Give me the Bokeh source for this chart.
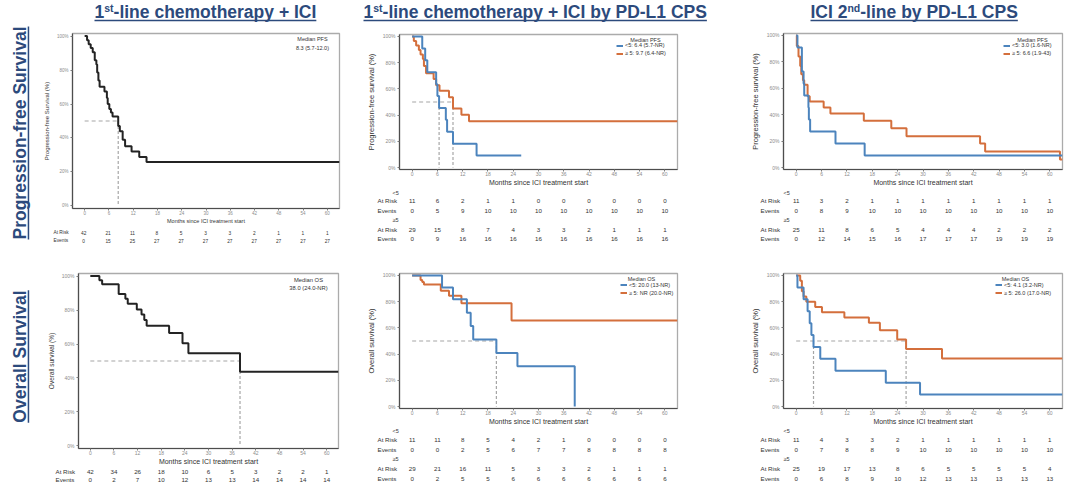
import math

from bokeh.core.properties import value
from bokeh.embed import file_html
from bokeh.layouts import column, row
from bokeh.models import (BoxAnnotation, ColumnDataSource, FixedTicker, Label,
                          LabelSet, Legend, LegendItem, Plot, Range1d)
from bokeh.plotting import figure
from bokeh.resources import INLINE

FONT = "Liberation Sans"
NAVY = "#2C4A7C"
BLUE = "#4C84BD"
ORANGE = "#D46F3C"
BLACK = "#232323"
DASH = "#A6A6A6"
TEXT = "#333333"
TICK = "#8C8C8C"

# ---------------------------------------------------------------- data
month_ticks = [0, 6, 12, 18, 24, 30, 36, 42, 48, 54, 60]
surv_ticks = [0, 20, 40, 60, 80, 100]
surv_tick_labels = ["0%", "20%", "40%", "60%", "80%", "100%"]

# 1st-line chemotherapy + ICI, progression-free survival
pfs1_t = [0, 0.6, 1.0, 1.5, 2.0, 2.5, 2.9, 3.1, 3.4, 3.7, 4.9, 5.5, 5.7, 6.1,
          6.5, 6.9, 8.3, 8.7, 9.4, 10.0, 11.6, 13.5, 15.3, 63]
pfs1_s = [100, 97.6, 95.2, 92.9, 90.5, 85.7, 83.3, 78.6, 73.8, 70.2, 67.3, 63.5,
          60.0, 57.0, 55.0, 52.6, 47.0, 44.0, 38.9, 35.2, 32.0, 28.8, 25.9, 25.9]
pfs1_medians = [8.3]
pfs1_note = ["Median PFS", "8.3 (5.7-12.0)"]
pfs1_at_risk = [42, 21, 11, 8, 5, 3, 3, 2, 1, 1, 1]
pfs1_events = [0, 15, 25, 27, 27, 27, 27, 27, 27, 27, 27]

# 1st-line chemotherapy + ICI by PD-L1 CPS, progression-free survival
pfs2_lo_t = [0, 2.4, 3.1, 3.6, 5.7, 6.0, 6.4, 8.0, 8.3, 9.7, 15.3, 25.9]
pfs2_lo_s = [100, 90.9, 81.8, 72.7, 63.6, 54.5, 45.5, 36.4, 27.3, 18.2, 9.1, 9.1]
pfs2_hi_t = [0, 0.4, 0.95, 1.6, 2.0, 2.55, 2.8, 3.3, 5.1, 5.7, 6.5, 8.75, 9.7,
             11.7, 13.5, 63]
pfs2_hi_s = [100, 96.6, 93.1, 89.7, 86.2, 82.8, 77.5, 72.0, 67.5, 62.7, 58.5,
             53.7, 45.1, 40.2, 35.4, 35.4]
pfs2_medians = [6.4, 9.7]
pfs2_legend = ["<5: 6.4 (5.7-NR)", "\u2265 5: 9.7 (6.4-NR)"]
pfs2_lo_at_risk = [11, 6, 2, 1, 1, 0, 0, 0, 0, 0, 0]
pfs2_lo_events = [0, 5, 9, 10, 10, 10, 10, 10, 10, 10, 10]
pfs2_hi_at_risk = [29, 15, 8, 7, 4, 3, 3, 2, 1, 1, 1]
pfs2_hi_events = [0, 9, 16, 16, 16, 16, 16, 16, 16, 16, 16]

# ICI 2nd-line by PD-L1 CPS, progression-free survival
pfs3_lo_t = [0, 0.3, 1.35, 1.75, 1.9, 2.9, 3.0, 3.3, 9.3, 16.2, 63]
pfs3_lo_s = [100, 90.9, 72.7, 63.6, 54.5, 45.5, 36.4, 27.3, 18.2, 9.1, 9.1]
pfs3_hi_t = [0, 0.15, 0.55, 0.95, 1.2, 1.6, 1.9, 2.7, 3.2, 6.5, 8.1, 16.0, 22.5,
             26.1, 43.5, 44.7, 62.4, 63]
pfs3_hi_s = [100, 92, 84, 76.8, 70.7, 66, 62.7, 54, 50, 45.5, 41, 35.5, 29.8,
             23.7, 18.2, 12.2, 6.1, 6.1]
pfs3_legend = ["<5: 3.0 (1.6-NR)", "\u2265 5: 6.6 (1.9-43)"]
pfs3_lo_at_risk = [11, 3, 2, 1, 1, 1, 1, 1, 1, 1, 1]
pfs3_lo_events = [0, 8, 9, 10, 10, 10, 10, 10, 10, 10, 10]
pfs3_hi_at_risk = [25, 11, 8, 6, 5, 4, 4, 4, 2, 2, 2]
pfs3_hi_events = [0, 12, 14, 15, 16, 17, 17, 17, 19, 19, 19]

# 1st-line chemotherapy + ICI, overall survival
os1_t = [0, 2.3, 3.0, 7.2, 8.9, 9.5, 11.8, 13.0, 13.7, 14.3, 20.0, 23.4, 24.9,
         38.0, 63]
os1_s = [100, 97.6, 95.2, 89.5, 86.6, 83.7, 80.3, 77.4, 74.1, 70.8, 66.5, 60.5,
         54.5, 43.6, 43.6]
os1_medians = [38.0]
os1_note = ["Median OS", "38.0 (24.0-NR)"]
os1_at_risk = [42, 34, 26, 18, 10, 6, 5, 3, 2, 2, 1]
os1_events = [0, 2, 7, 10, 12, 13, 13, 14, 14, 14, 14]

# 1st-line chemotherapy + ICI by PD-L1 CPS, overall survival
os2_lo_t = [0, 7.1, 9.7, 13.0, 13.9, 14.5, 20.0, 25.0, 38.6]
os2_lo_s = [100, 90.9, 81.8, 71.6, 61.4, 51.1, 40.9, 30.7, 0]
os2_hi_t = [0, 2.0, 2.4, 2.8, 6.8, 8.75, 11.7, 23.6, 63]
os2_hi_s = [100, 96.6, 95.0, 93.1, 88.4, 84.6, 78.8, 65.7, 65.7]
os2_medians = [20.0]
os2_legend = ["<5: 20.0 (13-NR)", "\u2265 5: NR (20.0-NR)"]
os2_lo_at_risk = [11, 11, 8, 5, 4, 2, 1, 0, 0, 0, 0]
os2_lo_events = [0, 0, 2, 5, 6, 7, 7, 8, 8, 8, 8]
os2_hi_at_risk = [29, 21, 16, 11, 5, 3, 3, 2, 1, 1, 1]
os2_hi_events = [0, 2, 5, 5, 6, 6, 6, 6, 6, 6, 6]

# ICI 2nd-line by PD-L1 CPS, overall survival
os3_lo_t = [0, 0.3, 1.75, 2.7, 3.2, 3.6, 4.1, 5.7, 9.3, 21.2, 29.3, 63]
os3_lo_s = [100, 90.9, 81.8, 72.7, 63.6, 54.5, 45.5, 36.4, 27.3, 18.2, 9.1, 9.1]
os3_hi_t = [0, 0.95, 1.35, 1.75, 2.4, 4.5, 6.1, 11.4, 17.2, 19.8, 23.9, 26.0,
            34.5, 63]
os3_hi_s = [100, 96, 88, 84, 80, 76, 72, 68, 64, 58.2, 51.2, 43.9, 36.6, 36.6]
os3_medians = [4.1, 26.0]
os3_legend = ["<5: 4.1 (3.2-NR)", "\u2265 5: 26.0 (17.0-NR)"]
os3_lo_at_risk = [11, 4, 3, 3, 2, 1, 1, 1, 1, 1, 1]
os3_lo_events = [0, 7, 8, 8, 9, 10, 10, 10, 10, 10, 10]
os3_hi_at_risk = [25, 19, 17, 13, 8, 6, 5, 5, 5, 5, 4]
os3_hi_events = [0, 6, 8, 9, 10, 12, 13, 13, 13, 13, 13]

group_names = ["<5", "\u22655"]
row_names = ["At Risk", "Events"]

# ---------------------------------------------------------------- helpers
NOALIGN = {"frame_align": False} if "frame_align" in Plot.properties() else {}

# Arial/Liberation Sans Bold advance widths (em) for the heading strings
BOLD_W = {'1': .556, '2': .556, 's': .556, 't': .333, '-': .333, 'l': .278,
          'i': .278, 'n': .611, 'e': .556, ' ': .278, 'c': .556, 'h': .611,
          'm': .889, 'o': .611, 'a': .556, 'p': .611, 'y': .556, 'r': .389,
          '+': .584, 'I': .278, 'C': .722, 'b': .611, 'P': .667, 'D': .722,
          'L': .611, 'S': .667, 'd': .611, 'g': .611, 'f': .333, 'u': .611,
          'v': .556, 'O': .778}


def bold_width(s, size):
    return sum(BOLD_W.get(c, .6) for c in s) * size


def geo(x0, y0, W, H, L, R, T, B):
    return dict(x0=x0, y0=y0, W=W, H=H, L=L, R=R, T=T, B=B,
                fx0=x0 + L, fx1=x0 + W - R, fy0=y0 + T, fy1=y0 + H - B)


def text_fig(x0, y0, W, H):
    """Axis-free figure whose frame fills it; data units are page pixels."""
    f = figure(width=W, height=H, x_range=Range1d(x0, x0 + W),
               y_range=Range1d(y0 + H, y0), x_axis_type=None, y_axis_type=None,
               output_backend="svg", toolbar_location=None, min_border=0,
               min_border_left=0, min_border_right=0, min_border_top=0,
               min_border_bottom=0, **NOALIGN)
    f.outline_line_color = None
    f.background_fill_color = "white"
    f.border_fill_color = "white"
    return f


def put(f, X, Y, text, size, color=TEXT, align="left", bold=False, angle=0.0):
    f.add_layout(Label(x=X, y=Y, text=text, text_font=FONT,
                       text_font_size=f"{size}px", text_color=color,
                       text_align=align, text_baseline="middle",
                       text_font_style="bold" if bold else "normal",
                       angle=angle))


def bar(f, X0, X1, Y0, Y1, color):
    f.add_layout(BoxAnnotation(left=X0, right=X1, top=Y0, bottom=Y1,
                               fill_color=color, fill_alpha=1.0, line_alpha=0.0))


def draw_title(f, X, parts, size=17.5, sup_size=10.5):
    # text boxes are anchored at their middle; baseline sits ~0.35em below it
    x = X
    for txt, sup in parts:
        fs = sup_size if sup else size
        put(f, x, 7.4 if sup else 11.2, txt, fs, NAVY, "left", True)
        x += bold_width(txt, fs)
    bar(f, X, x, 19.2, 20.7, NAVY)


def draw_row_label(f, text, yc, size=17.5):
    length = bold_width(text, size)
    put(f, 19.4, yc, text, size, NAVY, "center", True, angle=math.pi / 2)
    bar(f, 27.2, 28.7, yc - length / 2, yc + length / 2, NAVY)


def base_panel(g, ylabel, ylab_size, tick_size, xlab_size):
    p = figure(width=g["W"], height=g["H"], x_range=Range1d(-3, 63),
               y_range=Range1d(-1.5, 101.5), output_backend="svg",
               toolbar_location=None, min_border_left=g["L"],
               min_border_right=g["R"], min_border_top=g["T"],
               min_border_bottom=g["B"], **NOALIGN)
    p.xgrid.visible = False
    p.ygrid.visible = False
    p.outline_line_color = "#ABABAB"
    p.outline_line_width = 1.3
    p.background_fill_color = "white"
    p.border_fill_color = "white"
    for ax in (p.xaxis[0], p.yaxis[0]):
        ax.axis_line_color = "#4D4D4D"
        ax.axis_line_width = 1.2
        ax.major_tick_line_color = "#7A7A7A"
        ax.major_tick_out = 2
        ax.major_tick_in = 0
        ax.minor_tick_line_color = None
        ax.major_label_text_font = FONT
        ax.major_label_text_color = TICK
        ax.major_label_text_font_size = f"{tick_size}px"
        ax.axis_label_text_font = FONT
        ax.axis_label_text_font_style = "normal"
        ax.axis_label_text_color = TEXT
    xa = p.xaxis[0]
    xa.ticker = FixedTicker(ticks=month_ticks)
    xa.axis_label = "Months since ICI treatment start"
    xa.axis_label_text_font_size = f"{xlab_size}px"
    xa.major_label_standoff = 0
    xa.axis_label_standoff = 0
    ya = p.yaxis[0]
    ya.ticker = FixedTicker(ticks=surv_ticks)
    ya.major_label_overrides = {t: l for t, l in zip(surv_ticks, surv_tick_labels)}
    ya.axis_label = ylabel
    ya.axis_label_text_font_size = f"{ylab_size}px"
    ya.major_label_standoff = 2
    ya.axis_label_standoff = 4
    return p


def inner_label(p, g, X, Y, text, size, align="center"):
    # frame-relative screen position inside the plotting area
    p.add_layout(Label(x=X - g["fx0"], y=g["fy1"] - Y, x_units="screen",
                       y_units="screen", text=text, text_font=FONT,
                       text_font_size=f"{size}px", text_color=TEXT,
                       text_align=align, text_baseline="middle"))


def median_guides(p, medians):
    p.segment(x0=[0], y0=[50], x1=[max(medians)], y1=[50], line_color=DASH,
              line_dash="4 3", line_width=1.2)
    p.segment(x0=medians, y0=[50] * len(medians), x1=medians,
              y1=[0] * len(medians), line_color=DASH, line_dash="3 2",
              line_width=1.2)


def group_legend(p, g, header, hx, hy, labels, renderers, x_swatch, y_bottom):
    inner_label(p, g, hx, hy, header, 5.5)
    leg = Legend(items=[LegendItem(label=l, renderers=[r])
                        for l, r in zip(labels, renderers)],
                 location=(x_swatch - g["fx0"], g["fy1"] - y_bottom), padding=0,
                 spacing=1, margin=0, label_height=7, glyph_height=7,
                 glyph_width=7, label_standoff=2, border_line_alpha=0,
                 background_fill_alpha=0, label_text_font=FONT,
                 label_text_font_size="5.5px", label_text_color=TEXT)
    p.add_layout(leg)


def table_fig(x0, y0, W, H, g):
    f = text_fig(x0, y0, W, H)
    k = 66.0 / (g["fx1"] - g["fx0"])
    f.extra_x_ranges = {"months": Range1d(-3 - (g["fx0"] - x0) * k,
                                          63 + (x0 + W - g["fx1"]) * k)}
    return f


def risk_row(f, Y, values, size):
    src = ColumnDataSource(dict(x=month_ticks, y=[Y] * len(month_ticks),
                                t=[str(v) for v in values]))
    f.add_layout(LabelSet(x="x", y="y", text="t", source=src,
                          x_range_name="months", text_align="center",
                          text_baseline="middle", text_font=value(FONT),
                          text_font_size=f"{size}px", text_color=TEXT))


def grouped_table(f, x_row, x_grp, ys, lo, hi, size=6.2):
    for (yg, y_ar, y_ev), name, (ar, ev) in zip(ys, group_names, (lo, hi)):
        put(f, x_grp, yg, name, 5.5)
        put(f, x_row, y_ar, row_names[0], size)
        put(f, x_row, y_ev, row_names[1], size)
        risk_row(f, y_ar, ar, size)
        risk_row(f, y_ev, ev, size)


# ---------------------------------------------------------------- geometry
G1 = geo(40, 25, 320, 201, 31, 21, 8, 13)
G2 = geo(360, 25, 360, 163, 39, 43, 9, 15)
G3 = geo(720, 25, 360, 163, 63, 18, 8, 15)
G4 = geo(40, 250, 320, 217, 38, 22, 23, 15)
G5 = geo(360, 250, 360, 177, 39, 43, 23, 15)
G6 = geo(720, 250, 360, 177, 63, 18, 23, 15)

# ---------------------------------------------------------------- headings
titles = text_fig(40, 0, 1040, 25)
draw_title(titles, 94, [("1", False), ("st", True),
                        ("-line chemotherapy + ICI", False)])
draw_title(titles, 363, [("1", False), ("st", True),
                         ("-line chemotherapy + ICI by PD-L1 CPS", False)])
draw_title(titles, 810, [("ICI 2", False), ("nd", True),
                         ("-line by PD-L1 CPS", False)])

side = text_fig(0, 0, 40, 494)
draw_row_label(side, "Progression-free Survival", 132.5)
draw_row_label(side, "Overall Survival", 356)

# ---------------------------------------------------------------- panel 1
p1 = base_panel(G1, "Progression-free Survival (%)", 6, 4.5, 5.5)
median_guides(p1, pfs1_medians)
p1.step(pfs1_t, pfs1_s, mode="after", line_color=BLACK, line_width=2)
inner_label(p1, G1, 311, 43, pfs1_note[0], 5.5)
inner_label(p1, G1, 311, 52, pfs1_note[1], 5.5)
t1 = table_fig(40, 226, 320, 24, G1)
put(t1, 53, 232, row_names[0], 4.8)
put(t1, 53, 240, row_names[1], 4.8)
risk_row(t1, 232, pfs1_at_risk, 4.8)
risk_row(t1, 240, pfs1_events, 4.8)

# ---------------------------------------------------------------- panel 2
p2 = base_panel(G2, "Progression-free survival (%)", 7.5, 5, 7)
median_guides(p2, pfs2_medians)
r2o = p2.step(pfs2_hi_t, pfs2_hi_s, mode="after", line_color=ORANGE, line_width=2)
r2b = p2.step(pfs2_lo_t, pfs2_lo_s, mode="after", line_color=BLUE, line_width=2)
group_legend(p2, G2, "Median PFS", 645, 43, pfs2_legend, [r2b, r2o], 616, 60.8)
t2 = table_fig(360, 188, 360, 62, G2)
grouped_table(t2, 377, 392, [(192, 200, 210), (219, 229, 238)],
              (pfs2_lo_at_risk, pfs2_lo_events), (pfs2_hi_at_risk, pfs2_hi_events))

# ---------------------------------------------------------------- panel 3
p3 = base_panel(G3, "Progression-free survival (%)", 7.5, 5, 7)
r3o = p3.step(pfs3_hi_t, pfs3_hi_s, mode="after", line_color=ORANGE, line_width=2)
r3b = p3.step(pfs3_lo_t, pfs3_lo_s, mode="after", line_color=BLUE, line_width=2)
group_legend(p3, G3, "Median PFS", 1032, 43, pfs3_legend, [r3b, r3o], 1003, 60.8)
t3 = table_fig(720, 188, 360, 62, G3)
grouped_table(t3, 760, 783, [(192, 200, 210), (219, 229, 238)],
              (pfs3_lo_at_risk, pfs3_lo_events), (pfs3_hi_at_risk, pfs3_hi_events))

# ---------------------------------------------------------------- panel 4
p4 = base_panel(G4, "Overall survival (%)", 6.5, 5, 7)
median_guides(p4, os1_medians)
p4.step(os1_t, os1_s, mode="after", line_color=BLACK, line_width=2)
inner_label(p4, G4, 308, 283, os1_note[0], 5.8)
inner_label(p4, G4, 308, 291, os1_note[1], 5.8)
t4 = table_fig(40, 467, 320, 27, G4)
put(t4, 55, 471, row_names[0], 6.2)
put(t4, 55, 479, row_names[1], 6.2)
risk_row(t4, 471, os1_at_risk, 6.2)
risk_row(t4, 479, os1_events, 6.2)

# ---------------------------------------------------------------- panel 5
p5 = base_panel(G5, "Overall survival (%)", 7.5, 5, 7)
median_guides(p5, os2_medians)
r5o = p5.step(os2_hi_t, os2_hi_s, mode="after", line_color=ORANGE, line_width=2)
r5b = p5.step(os2_lo_t, os2_lo_s, mode="after", line_color=BLUE, line_width=2)
group_legend(p5, G5, "Median OS", 641, 282, os2_legend, [r5b, r5o], 620, 300)
t5 = table_fig(360, 427, 360, 67, G5)
grouped_table(t5, 377, 392, [(430, 439, 449), (458, 468, 478)],
              (os2_lo_at_risk, os2_lo_events), (os2_hi_at_risk, os2_hi_events))

# ---------------------------------------------------------------- panel 6
p6 = base_panel(G6, "Overall survival (%)", 7.5, 5, 7)
median_guides(p6, os3_medians)
r6o = p6.step(os3_hi_t, os3_hi_s, mode="after", line_color=ORANGE, line_width=2)
r6b = p6.step(os3_lo_t, os3_lo_s, mode="after", line_color=BLUE, line_width=2)
group_legend(p6, G6, "Median OS", 1015, 282, os3_legend, [r6b, r6o], 995, 300)
t6 = table_fig(720, 427, 360, 67, G6)
grouped_table(t6, 760, 783, [(430, 439, 449), (458, 468, 478)],
              (os3_lo_at_risk, os3_lo_events), (os3_hi_at_risk, os3_hi_events))

grid = column(
    titles,
    row(column(p1, t1), column(p2, t2), column(p3, t3)),
    row(column(p4, t4), column(p5, t5), column(p6, t6)),
)
layout = row(side, grid)

with open("out.html", "w") as f:
    f.write(file_html(layout, INLINE))
